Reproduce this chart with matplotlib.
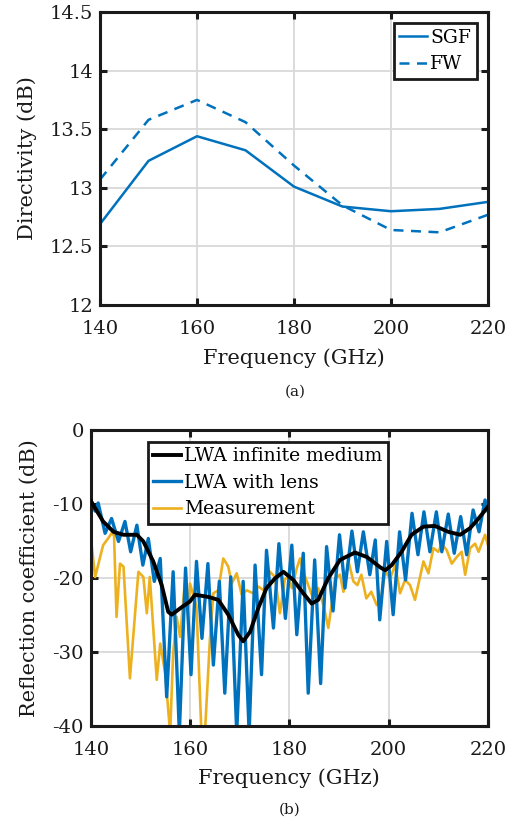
import numpy as np
import matplotlib
matplotlib.use("Agg")
import matplotlib.pyplot as plt

plt.rcParams['font.family'] = ['DejaVu Serif']
plt.rcParams['axes.unicode_minus'] = False

# ---------------- (a) Directivity ----------------
freq_a = [140, 150, 160, 170, 180, 190, 200, 210, 220]
sgf = [12.69, 13.23, 13.44, 13.32, 13.01, 12.84, 12.80, 12.82, 12.88]
fw = [13.07, 13.58, 13.75, 13.56, 13.19, 12.85, 12.64, 12.62, 12.77]

# ---------------- (b) Reflection coefficient ----------------
inf_f = [140.0, 142.5, 144.6, 146.6, 149.3, 150.6, 152.6, 154.3, 155.6, 156.3, 158.3,
         160.0, 161.0, 163.7, 165.7, 167.7, 169.7, 170.7, 172.1, 173.75, 175.4, 177.1,
         178.8, 180.8, 182.8, 184.5, 185.8, 187.8, 190.2, 193.2, 195.6, 198.3, 199.3,
         200.6, 202.6, 204.6, 207.0, 209.3, 212.0, 214.4, 216.4, 218.1, 220.0]
inf_v = [-9.6, -12.4, -13.8, -14.2, -14.2, -15.1, -17.8, -21.0, -24.6, -25.0, -24.0,
         -23.2, -22.3, -22.6, -23.0, -25.0, -27.7, -28.6, -27.3, -24.1, -21.4, -20.1,
         -19.2, -20.3, -22.1, -23.5, -23.0, -20.1, -17.6, -16.6, -17.2, -18.6, -19.0,
         -18.3, -16.5, -14.2, -13.1, -13.0, -13.8, -14.2, -13.3, -12.0, -10.4]

lens_f = [140.0, 140.9, 141.5, 142.9, 144.2, 145.6, 146.9, 148.05, 149.3, 150.5, 151.6,
          152.8, 154.0, 155.3, 156.6, 157.85, 159.1, 160.2, 161.3, 162.4, 163.6, 164.7,
          165.9, 167.0, 168.2, 169.4, 170.7, 171.9, 173.1, 174.4, 175.4, 176.8, 177.9,
          179.2, 180.5, 181.5, 182.8, 183.8, 185.1, 186.3, 187.5, 188.8, 190.1, 191.2,
          192.6, 193.7, 194.9, 196.2, 197.3, 198.2, 199.6, 200.9, 202.2, 203.4, 204.7,
          205.9, 207.1, 208.3, 209.6, 210.7, 212.0, 213.2, 214.5, 215.7, 217.0, 218.2,
          219.4, 220.0]
lens_v = [-9.5, -11.0, -9.9, -14.0, -12.0, -15.1, -12.4, -16.5, -12.9, -18.3, -14.7,
          -20.5, -17.4, -36.1, -19.2, -41.0, -18.7, -33.1, -17.8, -28.2, -18.1, -31.8,
          -20.5, -35.6, -19.9, -41.0, -20.5, -41.0, -18.3, -33.1, -16.3, -26.8, -15.4,
          -25.5, -15.6, -27.7, -16.7, -35.6, -17.6, -34.3, -15.8, -24.5, -14.2, -21.4,
          -13.7, -19.2, -13.8, -19.6, -14.9, -25.7, -15.1, -25.0, -13.8, -20.3, -11.3,
          -16.9, -11.1, -16.5, -11.1, -16.5, -11.4, -16.7, -11.75, -16.9, -10.85, -13.8,
          -9.5, -11.0]

meas_f = [140.0, 140.9, 142.5, 143.5, 144.2, 144.7, 145.2, 145.9, 146.6, 147.9, 149.6,
          150.6, 151.3, 151.9, 153.3, 154.0, 155.0, 156.0, 156.6, 157.3, 158.0, 159.0,
          159.7, 160.0, 161.3, 162.3, 163.0, 164.0, 164.7, 165.7, 166.7, 167.7, 168.4,
          169.4, 170.4, 171.4, 172.7, 173.8, 174.8, 176.1, 177.1, 178.1, 179.1, 179.8,
          180.5, 181.5, 182.15, 182.8, 183.8, 184.8, 185.8, 186.85, 187.85, 188.5, 189.2,
          190.2, 190.9, 191.9, 192.9, 193.7, 194.5, 195.5, 196.5, 197.6, 198.3, 199.3,
          200.3, 201.3, 202.3, 203.3, 204.3, 205.3, 207.0, 208.0, 209.0, 210.0, 210.7,
          211.7, 212.7, 213.7, 214.7, 215.4, 216.4, 217.4, 218.1, 219.4, 220.0]
meas_v = [-14.5, -19.9, -15.6, -14.7, -14.0, -14.3, -25.3, -18.1, -18.5, -33.6, -19.2,
          -19.9, -24.8, -19.9, -33.8, -28.9, -32.9, -41.0, -30.2, -25.3, -28.0, -20.3,
          -23.9, -20.8, -23.9, -41.0, -41.0, -28.4, -22.1, -21.7, -17.4, -18.5, -20.8,
          -19.4, -22.3, -21.7, -22.1, -21.2, -21.7, -19.2, -19.9, -24.8, -20.2, -19.9,
          -21.4, -18.7, -17.4, -19.2, -21.0, -22.8, -21.4, -23.7, -26.8, -23.7, -20.1,
          -19.6, -21.9, -17.8, -20.5, -21.0, -19.6, -22.8, -21.9, -23.7, -23.5, -19.2,
          -20.1, -18.3, -22.1, -20.3, -21.0, -23.0, -17.8, -19.4, -16.0, -16.5, -15.4,
          -16.3, -18.1, -17.2, -16.5, -19.6, -16.0, -15.4, -16.5, -14.2, -15.6]

x_ticks = [140, 160, 180, 200, 220]
ya_ticks = [12, 12.5, 13, 13.5, 14, 14.5]
ya_labels = ["12", "12.5", "13", "13.5", "14", "14.5"]
yb_ticks = [-40, -30, -20, -10, 0]

BLUE = "#0072BD"
ORANGE = "#EDB120"
FS = 14
INK = "#1a1a1a"

fig = plt.figure(figsize=(5.2, 8.25), dpi=100)

def style(ax):
    ax.grid(True, color="#d9d9d9", linewidth=1.3)
    ax.set_axisbelow(True)
    for s in ax.spines.values():
        s.set_linewidth(2.2)
        s.set_color(INK)
    ax.tick_params(direction="in", length=5, width=2.2, top=True, right=True,
                   labelsize=FS, colors=INK)
    ax.tick_params(axis="x", pad=11)
    ax.tick_params(axis="y", pad=5)

def style_legend(lg):
    lg.get_frame().set_edgecolor(INK)
    lg.get_frame().set_linewidth(2)

axa = fig.add_axes([100/520, 1-305/825, 388/520, 293/825])
axa.plot(freq_a, sgf, color=BLUE, lw=1.8, label="SGF")
axa.plot(freq_a, fw, color=BLUE, lw=1.8, ls=(0, (4, 3)), label="FW")
axa.set_xlim(140, 220)
axa.set_ylim(12, 14.5)
axa.set_xticks(x_ticks)
axa.set_yticks(ya_ticks)
axa.set_yticklabels(ya_labels)
style(axa)
axa.set_xlabel("Frequency (GHz)", fontsize=FS + 1, labelpad=7, color=INK)
axa.set_ylabel("Directivity (dB)", fontsize=FS + 1, labelpad=9, color=INK)
leg = axa.legend(loc="upper right", fontsize=FS - 0.5, handlelength=1.45,
                 handletextpad=0.2, borderpad=0.3, labelspacing=0.45,
                 fancybox=False, framealpha=1, borderaxespad=0.6)
style_legend(leg)
fig.text(295/520, 1-392/825, "(a)", ha="center", va="center", fontsize=11, color=INK)

axb = fig.add_axes([90.7/520, 1-725.7/825, 397.3/520, 296/825])
axb.plot(inf_f, inf_v, color="black", lw=2.8, label="LWA infinite medium", zorder=3)
axb.plot(lens_f, lens_v, color=BLUE, lw=2.4, label="LWA with lens", zorder=2)
axb.plot(meas_f, meas_v, color=ORANGE, lw=1.9, label="Measurement", zorder=1)
axb.set_xlim(140, 220)
axb.set_ylim(-40, 0)
axb.set_xticks(x_ticks)
axb.set_yticks(yb_ticks)
style(axb)
axb.set_xlabel("Frequency (GHz)", fontsize=FS + 1, labelpad=7, color=INK)
axb.set_ylabel("Reflection coefficient (dB)", fontsize=FS + 1, labelpad=10, color=INK)
legb = axb.legend(loc="upper left", bbox_to_anchor=(57/397.3, 1 - 12/296),
                  fontsize=FS - 0.5, handlelength=1.45, handletextpad=0.2,
                  borderpad=0.3, labelspacing=0.45, fancybox=False, framealpha=1,
                  borderaxespad=0)
style_legend(legb)
fig.text(290/520, 1-810/825, "(b)", ha="center", va="center", fontsize=11, color=INK)

fig.savefig("out.png", dpi=100)
